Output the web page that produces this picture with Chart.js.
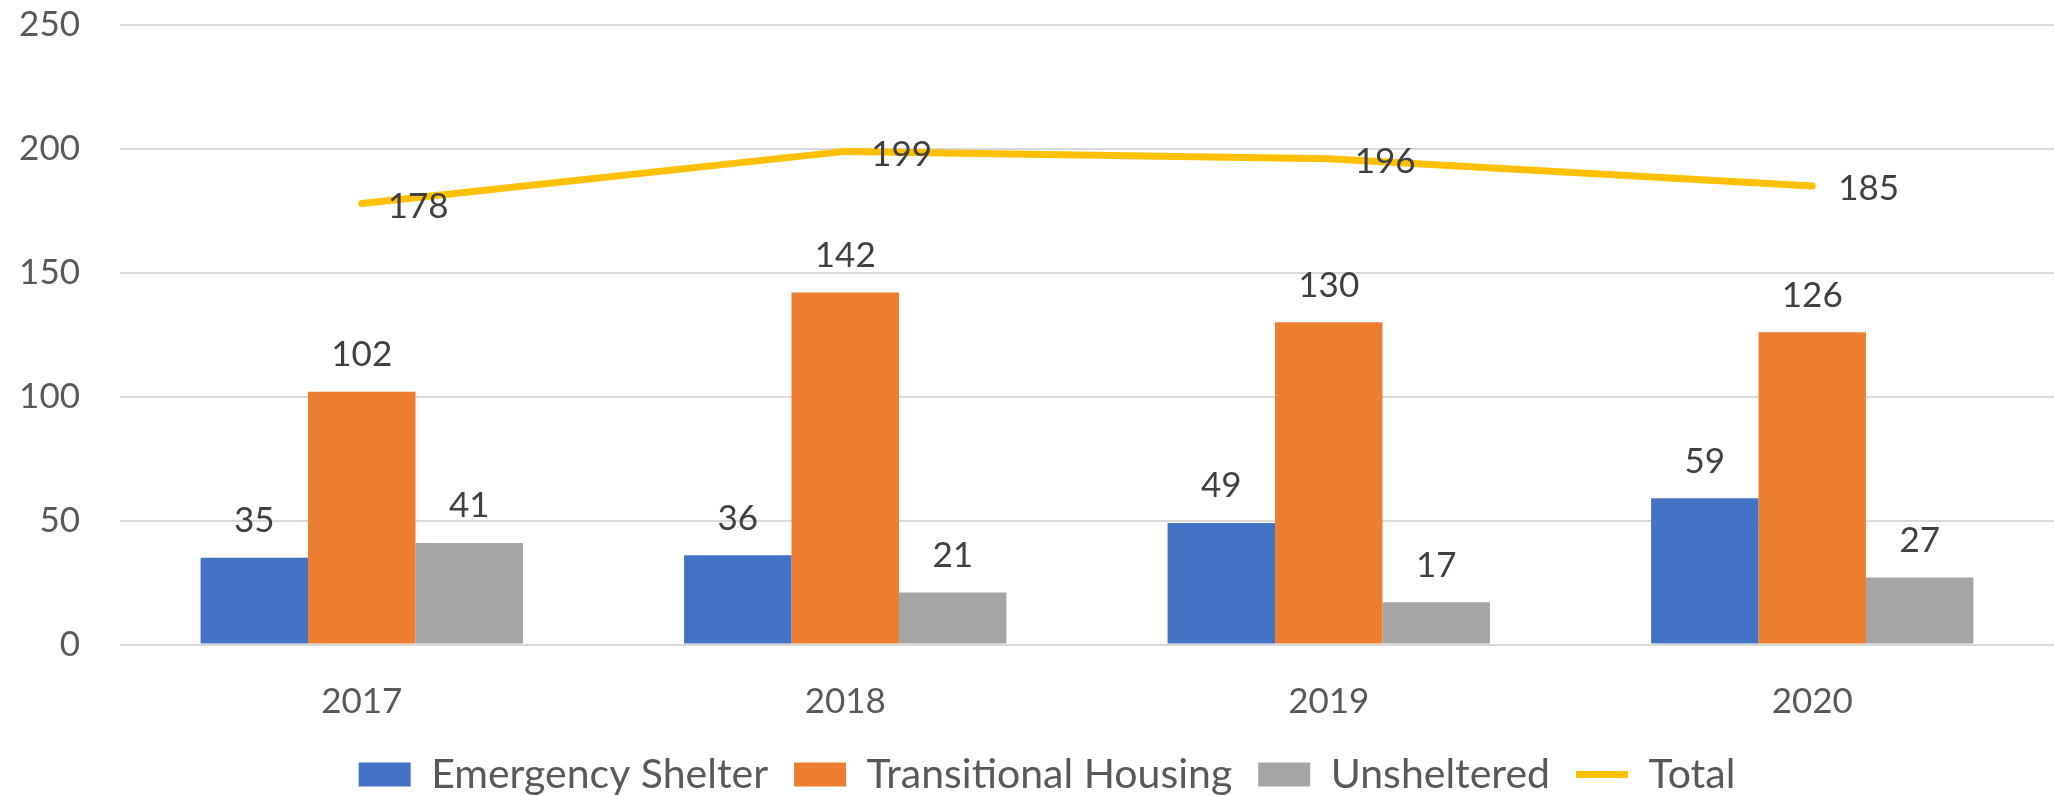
<!DOCTYPE html>
<html>
<head>
<meta charset="utf-8">
<script src="https://cdn.jsdelivr.net/npm/chart.js@4.4.1/dist/chart.umd.min.js"></script>
<style>
  html, body { margin: 0; padding: 0; background: #fff; }
  #wrap { width: 2054px; height: 795px; position: relative; }
</style>
</head>
<body>
<div id="wrap"><canvas id="pitChart"></canvas></div>
<script>
let years = ['2017', '2018', '2019', '2020'];
let emergencyShelter = [35, 36, 49, 59];
let transitionalHousing = [102, 142, 130, 126];
let unsheltered = [41, 21, 17, 27];
let totals = [178, 199, 196, 185];
let yTicks = [0, 50, 100, 150, 200, 250];

const labelFont = { family: 'Lato', size: 35 };
const legendFont = { family: 'Lato', size: 41 };

// draws the value labels (no datalabels plugin offline)
const valueLabels = {
    id: 'valueLabels',
    afterDatasetsDraw(chart) {
        const ctx = chart.ctx;
        ctx.save();
        ctx.font = labelFont.size + 'px ' + labelFont.family;
        ctx.fillStyle = '#404040';
        ctx.textBaseline = 'middle';
        chart.data.datasets.forEach((ds, i) => {
            const meta = chart.getDatasetMeta(i);
            meta.data.forEach((el, j) => {
                if (ds.type === 'line') {
                    ctx.textAlign = 'left';
                    ctx.fillText(ds.data[j], el.x + 26, el.y + 3);
                } else {
                    ctx.textAlign = 'center';
                    ctx.fillText(ds.data[j], el.x, el.y - 37);
                }
            });
        });
        ctx.restore();
    }
};

// legend in the original sits a bit right of the canvas centre
const legendShift = {
    id: 'legendShift',
    afterLayout(chart) {
        if (chart.legend) chart.legend.left += 40;
    }
};

const data = {
    labels: years,
    datasets: [
        {
            label: 'Emergency Shelter',
            data: emergencyShelter,
            backgroundColor: '#4472C4',
            pointStyle: 'rect',
            type: 'bar'
        },
        {
            label: 'Transitional Housing',
            data: transitionalHousing,
            backgroundColor: '#ED7D31',
            pointStyle: 'rect',
            type: 'bar'
        },
        {
            label: 'Unsheltered',
            data: unsheltered,
            backgroundColor: '#A5A5A5',
            pointStyle: 'rect',
            type: 'bar'
        },
        {
            label: 'Total',
            data: totals,
            borderColor: '#FFC000',
            backgroundColor: '#FFC000',
            borderWidth: 7,
            borderCapStyle: 'round',
            borderJoinStyle: 'round',
            pointRadius: 0,
            pointStyle: 'line',
            tension: 0,
            fill: false,
            type: 'line'
        }
    ]
};

const config = {
    type: 'bar',
    data: data,
    options: {
        responsive: true,
        maintainAspectRatio: false,
        animation: false,
        datasets: {
            bar: { categoryPercentage: 3 / 4.5, barPercentage: 1 }
        },
        layout: { padding: { top: 25, right: 0, left: 0, bottom: -10 } },
        scales: {
            x: {
                afterFit: (scale) => { scale.height = 83.5; },
                grid: { display: false, drawTicks: false },
                border: { display: false },
                ticks: { color: '#595959', font: labelFont, padding: 36 }
            },
            y: {
                min: 0,
                max: 250,
                afterBuildTicks: (scale) => { scale.ticks = yTicks.map(v => ({ value: v })); },
                afterFit: (scale) => {
                    scale.width = 120;
                    scale.paddingTop = 0;
                    scale.paddingBottom = 0;
                },
                grid: { color: '#D9D9D9', lineWidth: 2, drawTicks: false },
                border: { display: false },
                ticks: { color: '#595959', font: labelFont, padding: 40 }
            }
        },
        plugins: {
            legend: {
                position: 'bottom',
                labels: {
                    usePointStyle: true,
                    pointStyleWidth: 52,
                    boxHeight: 24,
                    padding: 26,
                    color: '#595959',
                    font: legendFont
                }
            },
            tooltip: { enabled: false }
        }
    },
    plugins: [valueLabels, legendShift]
};

new Chart(document.querySelector('#pitChart').getContext('2d'), config);
</script>
</body>
</html>
